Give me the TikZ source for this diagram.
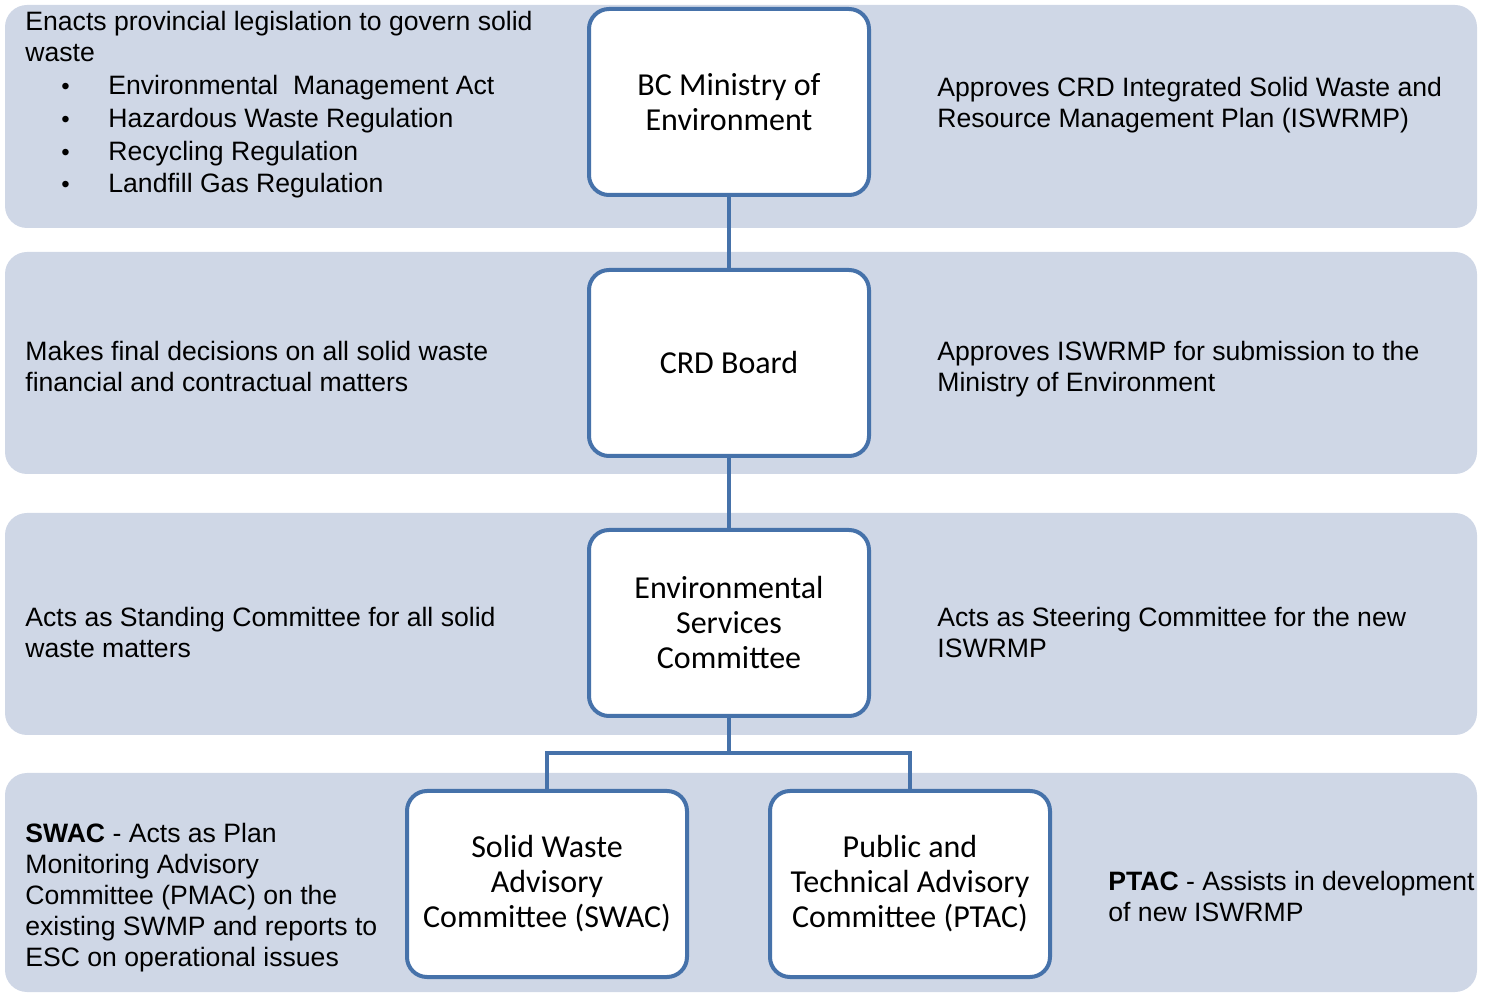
\documentclass[tikz,border=0pt]{standalone}
\usepackage{fontspec}
\setmainfont{Liberation Sans}
\newfontfamily\boxfont{Carlito}
\usepackage{tikz}
\definecolor{bandfill}{HTML}{CFD7E6}
\definecolor{boxline}{HTML}{4672AA}
\newcommand{\legitem}[1]{\\[0.9pt]\hspace*{18pt}\makebox[23.5pt][l]{\large\textbullet}#1}

\begin{document}
\begin{tikzpicture}[x=0.5pt,y=-0.5pt]
\tikzstyle{every node}+=[inner sep=0pt]
\tikzstyle{band}=[fill=bandfill,rounded corners=11pt]
\tikzstyle{org}=[draw=boxline,line width=2pt,fill=white,rounded corners=10pt,
  minimum width=140pt,minimum height=93pt,align=center,
  font=\boxfont\fontsize{16}{17.5}\selectfont]
\tikzstyle{note}=[anchor=west,align=left,font=\fontsize{13.3}{15.5}\selectfont]
\tikzstyle{link}=[draw=boxline,line width=2.4pt]
\useasboundingbox (0,0) rectangle (1485,994);
\fill [band] (5,5) rectangle (1477,228);
\fill [band] (5,252) rectangle (1477,474);
\fill [band] (5,513) rectangle (1477,735);
\fill [band] (5,773) rectangle (1477,992);
\node [org] (moe) at (729,102) {BC Ministry of\\Environment};
\node [org] (board) at (729,363) {CRD Board};
\node [org] (esc) at (729,623) {Environmental\\Services\\Committee};
\node [org] (swac) at (547,884) {Solid Waste\\Advisory\\Committee (SWAC)};
\node [org] (ptac) at (910,884) {Public and\\Technical Advisory\\Committee (PTAC)};
\coordinate (fork) at (729,753);
\draw [link] (moe) -- (board);
\draw [link] (board) -- (esc);
\draw [link] (esc) -- (fork);
\draw [link] (swac.north) |- (fork) -| (ptac.north);
\node [note,anchor=north west] (moeleft) at (25,11) {Enacts provincial legislation to govern solid\\waste
  \legitem{Environmental\ \ Management Act}
  \legitem{Hazardous Waste Regulation}
  \legitem{Recycling Regulation}
  \legitem{Landfill Gas Regulation}};
\node [note] (moeright) at (937,105) {Approves CRD Integrated Solid Waste and\\Resource Management Plan (ISWRMP)};
\node [note] (boardleft) at (25,366) {Makes final decisions on all solid waste\\financial and contractual matters};
\node [note] (boardright) at (937,369) {Approves ISWRMP for submission to the\\Ministry of Environment};
\node [note] (escleft) at (25,632) {Acts as Standing Committee for all solid\\waste matters};
\node [note] (escright) at (937,632) {Acts as Steering Committee for the new\\ISWRMP};
\node [note] (swacleft) at (25,898) {\textbf{SWAC} - Acts as Plan\\Monitoring Advisory\\Committee (PMAC) on the\\existing SWMP and reports to\\ESC on operational issues};
\node [note] (ptacright) at (1108,896) {\textbf{PTAC} - Assists in development\\of new ISWRMP};
\end{tikzpicture}
\end{document}
